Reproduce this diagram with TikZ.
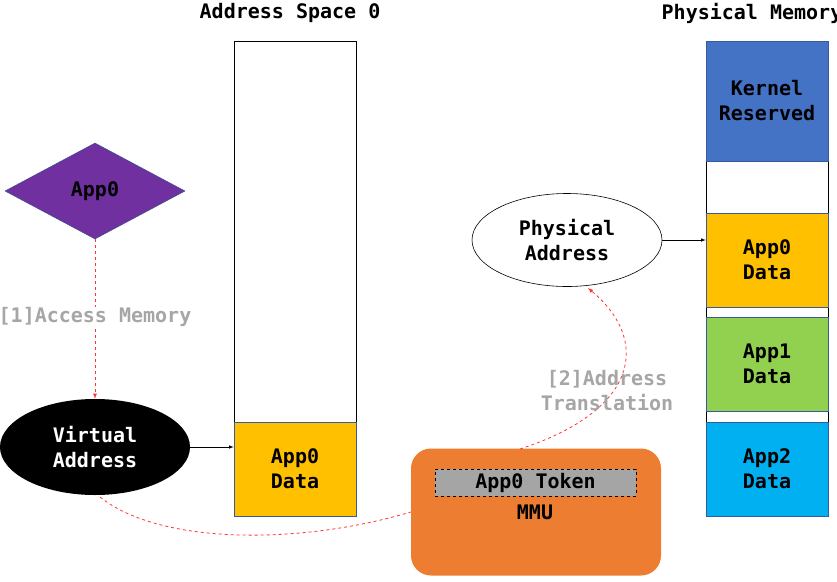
\documentclass[tikz,border=0pt]{standalone}
\usepackage{fontspec}
\setmonofont{DejaVu Sans Mono}
\usetikzlibrary{arrows}
\usetikzlibrary{shapes.geometric}

\definecolor{appPurple}{HTML}{7030A0}
\definecolor{memYellow}{HTML}{FFC000}
\definecolor{memGreen}{HTML}{92D050}
\definecolor{memCyan}{HTML}{00B0F0}
\definecolor{memBlue}{HTML}{4472C4}
\definecolor{mmuOrange}{HTML}{ED7D31}
\definecolor{tokenGray}{HTML}{A5A5A5}
\definecolor{labelGray}{HTML}{A6A6A6}
\definecolor{linkRed}{HTML}{FF3333}

\tikzset{
    mono/.style={font=\fontsize{20}{25}\selectfont\ttfamily\bfseries, align=center},
    membox/.style={mono, draw=memBlue!80!black, line width=0.6pt, minimum width=122pt, inner sep=0pt},
    redlink/.style={draw=linkRed, line width=0.8pt, dash pattern=on 3pt off 3pt},
}

\begin{document}
\begin{tikzpicture}[x=1pt, y=-1pt]
    \useasboundingbox (0,0) rectangle (837,581);

    %% define points
    \def\ASl{234};
    \def\ASr{356};
    \def\PMl{706};
    \def\PMr{828};
    \def\Top{41};
    \def\Bot{516};

    %% titles
    \node[mono] (astitle) at (290,13) {Address Space 0};
    \node[mono] (pmtitle) at (752,13) {Physical Memory};

    %% address space column
    \draw[line width=0.6pt] (\ASl,\Top) rectangle (\ASr,\Bot);
    \node[membox, fill=memYellow, minimum height=94pt] (vdata) at (295,469) {App0\\Data};

    %% physical memory column
    \draw[line width=0.6pt] (\PMl,\Top) rectangle (\PMr,\Bot);
    \node[membox, fill=memBlue, minimum height=120pt] (kernel) at (767,101) {Kernel\\Reserved};
    \node[membox, fill=memYellow, minimum height=94pt] (pdata0) at (767,260) {App0\\Data};
    \node[membox, fill=memGreen, minimum height=94pt] (pdata1) at (767,364) {App1\\Data};
    \node[membox, fill=memCyan, minimum height=94pt] (pdata2) at (767,469) {App2\\Data};

    %% app and addresses
    \node[mono, diamond, aspect=1.9, fill=appPurple, draw=memBlue!70!black, line width=0.5pt,
          minimum width=180pt, minimum height=96pt, inner sep=0pt] (app) at (95,191) {App0};
    \node[mono, ellipse, fill=black, text=white, minimum width=190pt, minimum height=96pt,
          inner sep=0pt] (vaddr) at (95,447) {Virtual\\Address};
    \node[mono, ellipse, draw, fill=white, line width=0.6pt, minimum width=190pt,
          minimum height=93pt, inner sep=0pt] (paddr) at (567,240) {Physical\\Address};

    %% mmu
    \node[fill=mmuOrange, rounded corners=20pt, minimum width=250pt, minimum height=127pt,
          inner sep=0pt] (mmu) at (536,512) {};
    \node[mono, fill=tokenGray, draw, dashed, line width=0.6pt, minimum width=201pt,
          minimum height=27pt, inner sep=0pt] (token) at (535.5,482.5) {App0 Token};
    \node[mono] (mmulabel) at (535,512) {MMU};

    %% plain arrows
    \draw[-latex, line width=0.6pt] (vaddr.east) -- (vaddr.east -| vdata.west);
    \draw[-latex, line width=0.6pt] (paddr.east) -- (paddr.east -| pdata0.west);

    %% red dashed links
    \draw[redlink, -latex] (app.south) -- (vaddr.north)
        node[pos=0.49, mono, text=labelGray, fill=white, inner sep=1pt] (step1) {[1]Access Memory};
    \draw[redlink] (100,497) .. controls (160,545) and (300,545) .. (mmu.west);
    \draw[redlink, -latex] (520,449) .. controls (640,410) and (650,340) .. (588,288);
    \node[mono, text=labelGray] (step2) at (607,391) {[2]Address\\Translation};
\end{tikzpicture}
\end{document}
